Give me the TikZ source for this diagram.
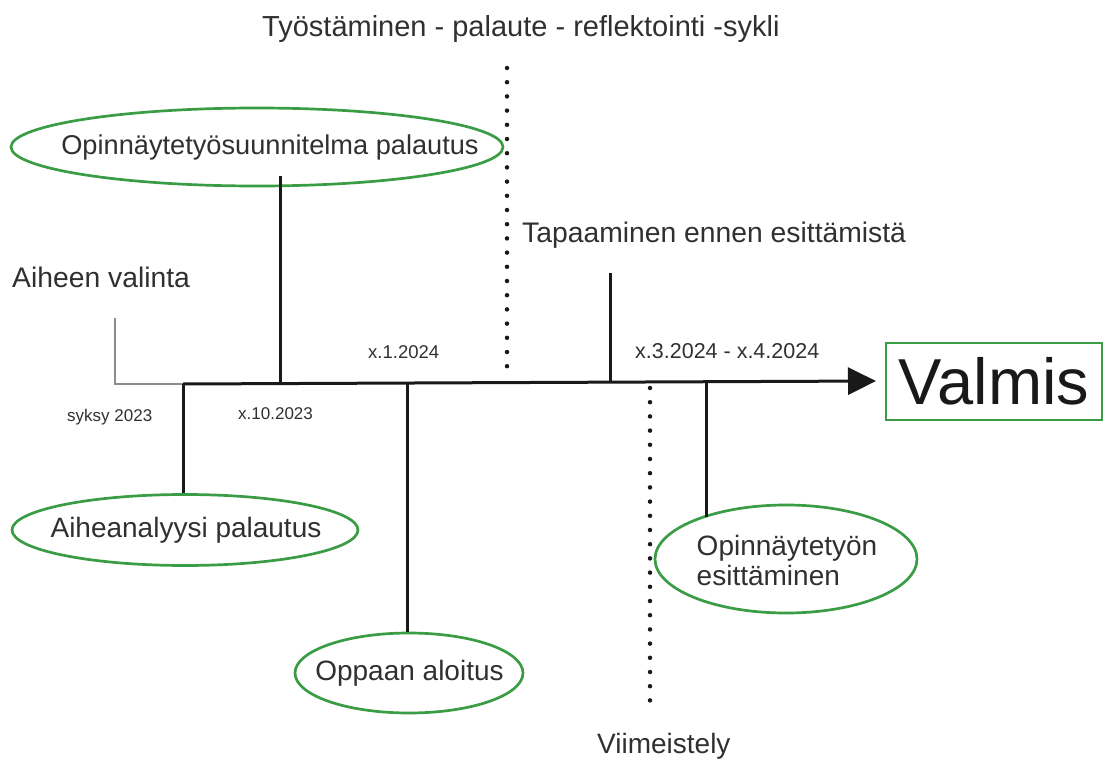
\documentclass[tikz,border=0pt]{standalone}
\usepackage{fontspec}
\setmainfont{Liberation Sans}
\usetikzlibrary{shapes.geometric,arrows.meta}
\definecolor{txt}{RGB}{48,48,48}
\definecolor{grn}{RGB}{58,156,68}
\definecolor{gry}{RGB}{140,140,140}
\definecolor{ln}{RGB}{25,25,25}
\newcommand{\fs}[1]{\fontsize{#1}{#1}\selectfont}
\tikzset{
  lbl/.style={inner sep=0pt, anchor=base west, text=txt, font=\fs{28.3}},
  small/.style={inner sep=0pt, anchor=base west, text=txt},
  oval/.style={ellipse, draw=grn, line width=2.7pt, inner sep=0pt},
  ovaltext/.style={inner sep=0pt, text=txt, font=\fs{28}},
  tick/.style={draw=ln, line width=3pt},
  dots/.style={draw=ln, line width=4.5pt, line cap=round, dash pattern=on 0pt off 14.2pt},
}
\begin{document}
\begin{tikzpicture}[x=1pt,y=-1pt]
\useasboundingbox (0,0) rectangle (1104,760);
% texts
\node[lbl, font=\fs{29}] (title) at (262,37) {Työstäminen - palaute - reflektointi -sykli};
\node[lbl] (aval) at (12,287) {Aiheen valinta};
\node[lbl] (tap) at (522,242) {Tapaaminen ennen esittämistä};
\node[lbl, font=\fs{28}] (viim) at (597,753) {Viimeistely};
\node[small, font=\fs{17}] (syk) at (67,421) {syksy 2023};
\node[small, font=\fs{17}] (x10) at (238,419) {x.10.2023};
\node[small, font=\fs{18.5}] (x1) at (368,358) {x.1.2024};
\node[small, font=\fs{21.5}] (x34) at (635,358) {x.3.2024 - x.4.2024};
% ovals
\node[oval, minimum width=492pt, minimum height=78pt] (opsE) at (257,147) {};
\node[ovaltext, font=\fs{27.2}] (ops) at (270,147) {Opinnäytetyösuunnitelma palautus};
\node[oval, minimum width=346pt, minimum height=71pt] (aiheE) at (185,530) {};
\node[ovaltext] (aihe) at (186,530) {Aiheanalyysi palautus};
\node[oval, minimum width=228pt, minimum height=80pt] (oppE) at (409,673) {};
\node[ovaltext] (opp) at (409.5,673) {Oppaan aloitus};
\node[oval, minimum width=262pt, minimum height=108pt] (esitE) at (786,559) {};
\node[ovaltext, align=left, font=\fontsize{28}{30}\selectfont] (esit) at (787,560) {Opinnäytetyön\\esittäminen};
% result box
\node[draw=grn, line width=2.7pt, minimum width=216pt, minimum height=77pt, inner sep=0pt, text=ln, font=\fs{65}] (valmis) at (994,381.5) {Valmis};
% axis coordinates
\coordinate (g0) at (115,318);
\coordinate (a0) at (183,384);
\coordinate (t2) at (280,383.5);
\coordinate (t2top) at (280,176);
\coordinate (t3) at (407,383);
\coordinate (d1top) at (507,68);
\coordinate (d1bot) at (507,378);
\coordinate (t4) at (610,382);
\coordinate (t4top) at (610,273);
\coordinate (d2top) at (650,388);
\coordinate (d2bot) at (650,708);
\coordinate (t5) at (706,381.5);
\coordinate (t5bot) at (706,517);
\coordinate (tip) at (876,381);
% gray connector from Aiheen valinta
\draw[gry, line width=2.2pt] (g0) |- (a0);
% main axis
\draw[ln, line width=3pt, -{Triangle[length=28pt,width=27pt]}] (a0) -- (tip);
% ticks
\draw[tick] (a0) -- (a0 |- aiheE.north);
\draw[tick] (t2) -- (t2top);
\draw[tick] (t3) -- (t3 |- oppE.north);
\draw[tick] (t4) -- (t4top);
\draw[tick] (t5) -- (t5bot);
% dotted separators
\draw[dots] (d1top) -- (d1bot);
\draw[dots] (d2top) -- (d2bot);
\end{tikzpicture}
\end{document}
